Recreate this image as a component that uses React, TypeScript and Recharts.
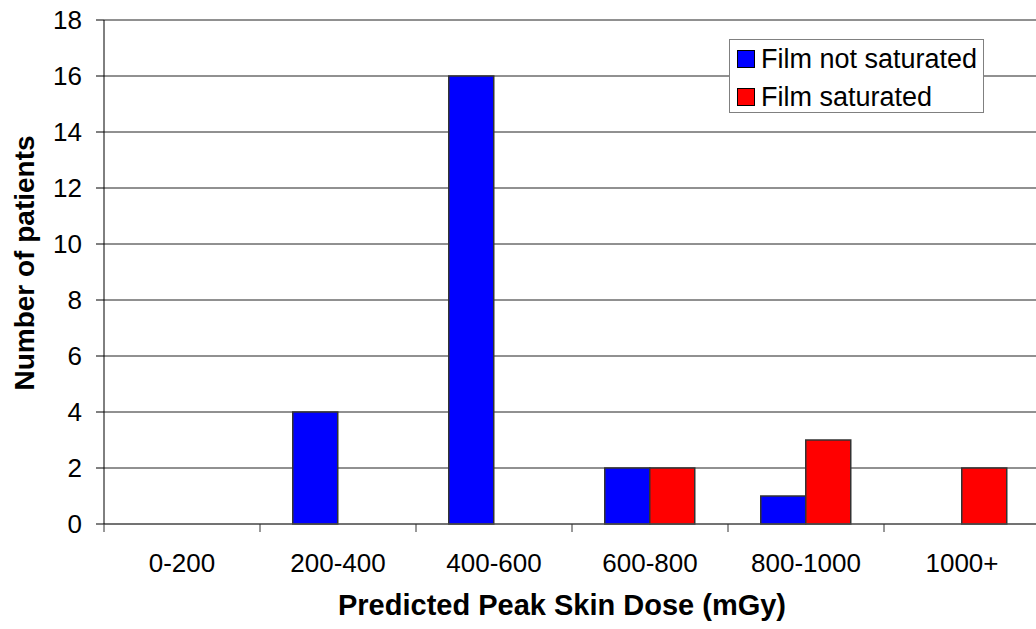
import { BarChart, Bar, XAxis, YAxis, CartesianGrid, Legend } from 'recharts'

const categories = ['0-200', '200-400', '400-600', '600-800', '800-1000', '1000+']
const notSaturated = [0, 4, 16, 2, 1, 0]
const saturated = [0, 0, 0, 2, 3, 2]
const yTicks = [0, 2, 4, 6, 8, 10, 12, 14, 16, 18]

const SERIES = [
  { key: 'notSat', name: 'Film not saturated', color: '#0000FF' },
  { key: 'sat', name: 'Film saturated', color: '#FF0000' },
]

const data = categories.map((c, i) => ({ cat: c, notSat: notSaturated[i], sat: saturated[i] }))

const FONT = '"Liberation Sans", Arial, sans-serif'
const CHART_W = 1044
const PLOT_LEFT = 104
const PLOT_RIGHT = 1040
const BAND = (PLOT_RIGHT - PLOT_LEFT) / categories.length

function XTick(props: any) {
  const { x, y, payload } = props
  const i = payload.index
  return (
    <g>
      <line x1={x - BAND / 2} x2={x - BAND / 2} y1={y} y2={y + 8} stroke="#333" strokeWidth={1} />
      {i === categories.length - 1 && (
        <line x1={x + BAND / 2} x2={x + BAND / 2} y1={y} y2={y + 8} stroke="#333" strokeWidth={1} />
      )}
      <text x={x} y={y + 48} textAnchor="middle" fill="#000" fontSize={26} fontFamily={FONT}>
        {payload.value}
      </text>
    </g>
  )
}

function LegendBox() {
  return (
    <div style={{
      width: 253, height: 72, border: '1px solid #808080', background: '#fff',
      fontFamily: FONT, fontSize: 27, color: '#000', position: 'relative',
    }}>
      {SERIES.map((s, i) => (
        <div key={s.key} style={{ position: 'absolute', left: 7, top: 3 + i * 38, height: 32, display: 'flex', alignItems: 'center' }}>
          <div style={{ width: 16, height: 16, background: s.color, border: '1px solid #000', marginRight: 6 }} />
          <span style={{ lineHeight: '32px', whiteSpace: 'nowrap' }}>{s.name}</span>
        </div>
      ))}
    </div>
  )
}

export default function App() {
  return (
    <div style={{ position: 'absolute', left: 0, top: 0, width: 1036, height: 629, overflow: 'hidden', background: '#fff' }}>
      <BarChart
        width={CHART_W} height={629} data={data}
        margin={{ top: 20, right: CHART_W - PLOT_RIGHT, left: 0, bottom: 0 }}
        barCategoryGap="21%" barGap={0}
      >
        <CartesianGrid vertical={false} stroke="#222" strokeWidth={1} />
        <XAxis
          dataKey="cat" height={105} tickLine={false} tickSize={0} tickMargin={0}
          axisLine={{ stroke: '#555' }} tick={<XTick />} interval={0}
          label={{ value: 'Predicted Peak Skin Dose (mGy)', position: 'center', dx: -10, dy: 28,
            style: { fontFamily: FONT, fontSize: 29, fontWeight: 'bold', fill: '#000' } }}
        />
        <YAxis
          width={104} domain={[0, 18]} ticks={yTicks} interval={0}
          axisLine={{ stroke: '#000' }} tickLine={{ stroke: '#000' }} tickSize={8} tickMargin={14}
          tick={{ fontFamily: FONT, fontSize: 26, fill: '#000' }}
          label={{ value: 'Number of patients', angle: -90, position: 'center', dx: -28, dy: -9,
            style: { fontFamily: FONT, fontSize: 28, fontWeight: 'bold', fill: '#000', textAnchor: 'middle' } }}
        />
        <Legend
          layout="vertical" align="center" verticalAlign="middle"
          wrapperStyle={{ left: 729, top: 39, width: 255, height: 74 }}
          content={() => <LegendBox />}
        />
        {SERIES.map(s => (
          <Bar key={s.key} dataKey={s.key} name={s.name} fill={s.color} stroke="#333" strokeWidth={1.5} isAnimationActive={false} />
        ))}
      </BarChart>
    </div>
  )
}
